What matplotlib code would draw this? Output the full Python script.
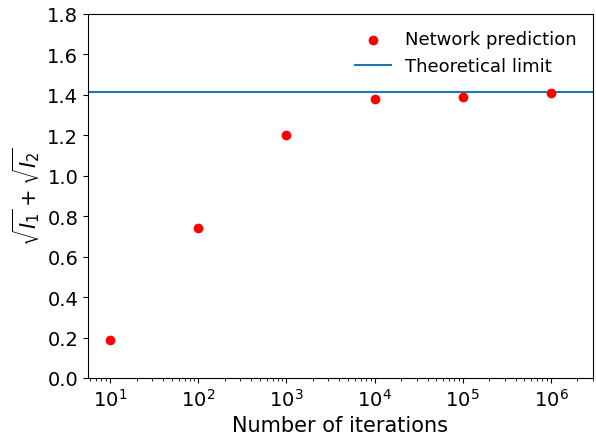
import numpy as np
import matplotlib.pyplot as plt

iterations = [1e1, 1e2, 1e3, 1e4, 1e5, 1e6]
prediction = [0.19, 0.74, 1.20, 1.38, 1.39, 1.41]
limit = np.sqrt(2)

plt.rcParams['font.size'] = 14
fig = plt.figure(figsize=(5.96, 4.35), dpi=100)
ax = fig.add_axes([88 / 596, 1 - 379 / 435, (593 - 88) / 596, (379 - 15) / 435])

ax.scatter(iterations, prediction, color='red', s=36, label='Network prediction', zorder=3)
ax.axhline(limit, color='tab:blue', label='Theoretical limit')
ax.set_xscale('log')
ax.set_xlim(10 ** 0.75, 3e6)
ax.set_ylim(0, 1.8)
ax.set_xlabel('Number of iterations', fontsize=15)
ax.set_ylabel(r'$\sqrt{I_1}+\sqrt{I_2}$', fontsize=15)
ax.legend(frameon=False, loc='upper right', fontsize=13)

fig.savefig('out.png', dpi=100)
